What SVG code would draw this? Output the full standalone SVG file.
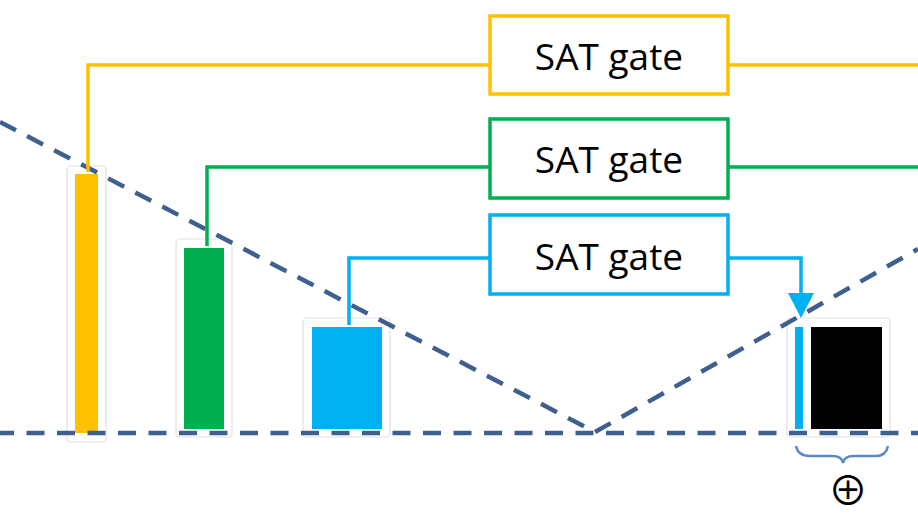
<svg xmlns="http://www.w3.org/2000/svg" width="918" height="517" viewBox="0 0 918 517">
<defs>
<style>
.gate{fill:#fff;stroke-width:3.5}
.lbl{font-family:"Open Sans","Noto Sans","Liberation Sans",sans-serif;font-size:37px;fill:#000;text-anchor:middle}
.wire{fill:none;stroke-width:3.5}
.dash{fill:none;stroke:#3f5f8f;stroke-width:4.5;stroke-dasharray:18 12.5}
.slot{fill:#fff;stroke:#e2e2e2;stroke-width:1.2}
.y{stroke:#ffc000}.g{stroke:#00b050}.b{stroke:#00b0f0}
</style>
</defs>
<rect width="918" height="517" fill="#fff"/>
<g id="slots">
<rect class="slot" x="67" y="166" width="39" height="276" rx="4"/>
<rect class="slot" x="176" y="239" width="56" height="198" rx="4"/>
<rect class="slot" x="303" y="318" width="87" height="119" rx="4"/>
<rect class="slot" x="787" y="318" width="103" height="119" rx="4"/>
</g>
<g id="bars">
<rect id="bar-yellow" x="75" y="174" width="23" height="259" fill="#ffc000"/>
<rect id="bar-green" x="184" y="248" width="40" height="181" fill="#00b050"/>
<rect id="bar-blue" x="312" y="327" width="70" height="102" fill="#00b0f0"/>
<rect id="bar-blue-thin" x="795" y="327" width="8" height="102" fill="#00b0f0"/>
<rect id="bar-black" x="811" y="327" width="71" height="102" fill="#000"/>
</g>
<g id="guides">
<path class="dash" d="M0,433 H918" stroke-dashoffset="4"/>
<path class="dash" d="M0,122 L595,432 L918,249"/>
</g>
<g id="connectors">
<path class="wire y" d="M88,172 V65 H490 M728,65 H918"/>
<path class="wire g" d="M207,246 V167 H490 M728,167 H918"/>
<path class="wire b" d="M349,325 V258 H490"/>
<path class="wire b" d="M728,258 H801 V294"/>
<path d="M788,293 L814,293 L801,318 Z" fill="#00b0f0"/>
</g>
<g id="gate1">
<rect class="gate y" x="490" y="16" width="238" height="78"/>
<text class="lbl" x="609" y="70">SAT gate</text>
</g>
<g id="gate2">
<rect class="gate g" x="490" y="119" width="238" height="79"/>
<text class="lbl" x="609" y="173">SAT gate</text>
</g>
<g id="gate3">
<rect class="gate b" x="490" y="215" width="238" height="79"/>
<text class="lbl" x="609" y="270">SAT gate</text>
</g>
<g id="brace">
<path d="M796,446 Q798,456 810,456 H832 Q842,456 843,463 Q844,456 854,456 H876 Q886,456 888,446" fill="none" stroke="#5b8ac6" stroke-width="2.5"/>
<text x="848" y="505" font-family="Noto Sans CJK SC,sans-serif" font-size="40" text-anchor="middle" fill="#000">⊕</text>
</g>
</svg>
